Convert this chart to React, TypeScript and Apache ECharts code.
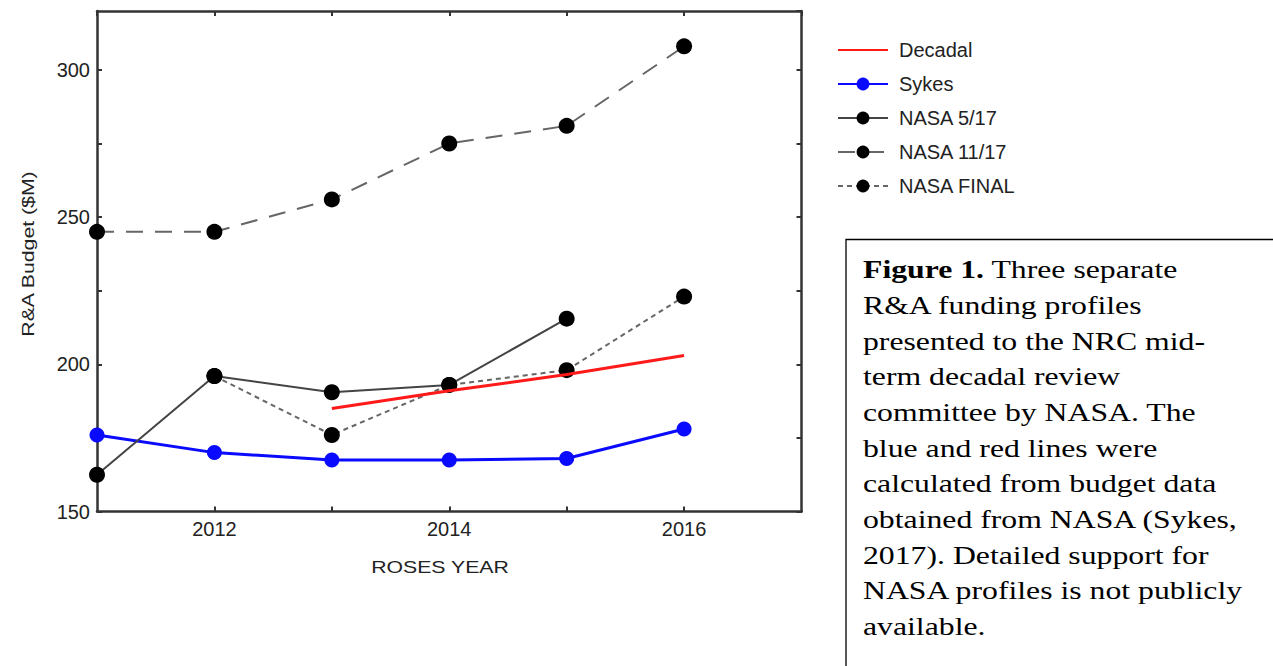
import React, { useEffect, useRef } from "react";
import * as echarts from "echarts";

const years = [2011, 2012, 2013, 2014, 2015, 2016];
const decadalYears = [2013, 2014, 2015, 2016];
const decadal = [185, 191, 196.5, 203];
const sykes = [176, 170, 167.5, 167.5, 168, 178];
const nasa517Years = [2011, 2012, 2013, 2014, 2015];
const nasa517 = [162.5, 196, 190.5, 193, 215.5];
const nasa1117 = [245, 245, 256, 275, 281, 308];
const nasaFinalYears = [2012, 2013, 2014, 2015, 2016];
const nasaFinal = [196, 176, 193, 198, 223];
const xLabels = [2012, 2014, 2016];
const yLabels = [150, 200, 250, 300];
const legendNames = ["Decadal", "Sykes", "NASA 5/17", "NASA 11/17", "NASA FINAL"];

const captionLines = [
  "{b|Figure 1.} Three separate",
  "R&A funding profiles",
  "presented to the NRC mid-",
  "term decadal review",
  "committee by NASA. The",
  "blue and red lines were",
  "calculated from budget data",
  "obtained from NASA (Sykes,",
  "2017). Detailed support for",
  "NASA profiles is not publicly",
  "available.",
];

const pair = (xs: number[], ys: number[]) => xs.map((x, i) => [x, ys[i]]);

const SANS = "Liberation Sans, Helvetica, Arial, sans-serif";
const SERIF = "Liberation Serif, Times New Roman, serif";
const AX = "#333";
const TXT = "#222";

export default function App() {
  const ref = useRef<HTMLDivElement>(null);
  useEffect(() => {
    if (!ref.current) return;
    const chart = echarts.init(ref.current, undefined, { renderer: "svg" });
    const axisLine = { show: true, lineStyle: { color: AX, width: 2.5 } };
    const tick = { show: true, inside: true, length: 5, lineStyle: { color: AX, width: 2 } };
    const dotSeries = (name: string, data: number[][], color: string, width: number, type: any, symbolSize: number, symColor: string) => ({
      name,
      type: "line",
      data,
      symbol: "circle",
      symbolSize,
      showSymbol: true,
      lineStyle: { color, width, type },
      itemStyle: { color: symColor, borderWidth: 0 },
      z: 3,
    });
    chart.setOption({
      animation: false,
      backgroundColor: "#fff",
      grid: { left: 97, top: 11, right: 471.5, bottom: 154.5, containLabel: false },
      legend: {
        orient: "vertical",
        left: 832,
        top: 35,
        itemWidth: 50,
        itemHeight: 16,
        itemGap: 14,
        textStyle: { fontSize: 20, color: TXT, fontFamily: SANS, padding: [0, 0, 0, 6] },
        data: legendNames.map((n) =>
          n === "Decadal" ? { name: n, itemStyle: { opacity: 0 } } : { name: n }
        ),
      },
      xAxis: [
        {
          type: "value",
          min: 2011,
          max: 2017,
          interval: 1,
          position: "bottom",
          axisLine,
          axisTick: tick,
          splitLine: { show: false },
          axisLabel: {
            fontSize: 20,
            color: TXT,
            fontFamily: SANS,
            margin: 7,
            showMinLabel: false,
            showMaxLabel: false,
            formatter: (v: number) => (xLabels.includes(v) ? String(v) : ""),
          },
        },
        {
          type: "value",
          min: 2011,
          max: 2017,
          interval: 1,
          position: "top",
          axisLine,
          axisTick: tick,
          splitLine: { show: false },
          axisLabel: { show: false },
        },
      ],
      yAxis: [
        {
          type: "value",
          min: 150,
          max: 320,
          interval: 25,
          position: "left",
          axisLine,
          axisTick: tick,
          splitLine: { show: false },
          axisLabel: {
            fontSize: 20,
            color: TXT,
            fontFamily: SANS,
            margin: 7,
            showMaxLabel: false,
            formatter: (v: number) => (yLabels.includes(v) ? String(v) : ""),
          },
        },
        {
          type: "value",
          min: 150,
          max: 320,
          interval: 25,
          position: "right",
          axisLine,
          axisTick: tick,
          splitLine: { show: false },
          axisLabel: { show: false },
        },
      ],
      series: [
        {
          name: "Decadal",
          type: "line",
          data: pair(decadalYears, decadal),
          symbol: "none",
          showSymbol: false,
          lineStyle: { color: "#ff1a1a", width: 3 },
          itemStyle: { color: "#ff1a1a" },
          z: 4,
        },
        dotSeries("Sykes", pair(years, sykes), "#0a0aff", 3, "solid", 15, "#0a0aff"),
        dotSeries("NASA 5/17", pair(nasa517Years, nasa517), "#444", 2, "solid", 16, "#000"),
        dotSeries("NASA 11/17", pair(years, nasa1117), "#666", 2, [17, 12], 16, "#000"),
        dotSeries("NASA FINAL", pair(nasaFinalYears, nasaFinal), "#666", 2, [5, 4], 16, "#000"),
      ],
      graphic: [
        {
          type: "text",
          x: 28,
          y: 254,
          rotation: Math.PI / 2,
          style: {
            text: "R&A Budget ($M)",
            fontSize: 17,
            fontFamily: SANS,
            fill: TXT,
            align: "center",
            verticalAlign: "middle",
          },
          scaleX: 1.25,
        },
        {
          type: "text",
          x: 440,
          y: 567,
          style: {
            text: "ROSES YEAR",
            fontSize: 17,
            fontFamily: SANS,
            fill: TXT,
            align: "center",
            verticalAlign: "middle",
          },
          scaleX: 1.25,
        },
        {
          type: "rect",
          shape: { x: 846, y: 239.5, width: 500, height: 500 },
          style: { fill: "none", stroke: "#000", lineWidth: 1.3 },
        },
        {
          type: "text",
          x: 863,
          y: 252,
          scaleX: 1.27,
          style: {
            text: captionLines.join("\n"),
            fontSize: 25,
            fontFamily: SERIF,
            lineHeight: 35.7,
            fill: "#000",
            verticalAlign: "top",
            align: "left",
            rich: {
              b: { fontSize: 25, fontFamily: SERIF, fontWeight: "bold", lineHeight: 35.7, fill: "#000" },
            },
          },
        },
      ],
    });
    return () => chart.dispose();
  }, []);
  return (
    <div
      ref={ref}
      style={{ position: "fixed", left: 0, top: 0, width: 1273, height: 666, background: "#fff" }}
    />
  );
}
